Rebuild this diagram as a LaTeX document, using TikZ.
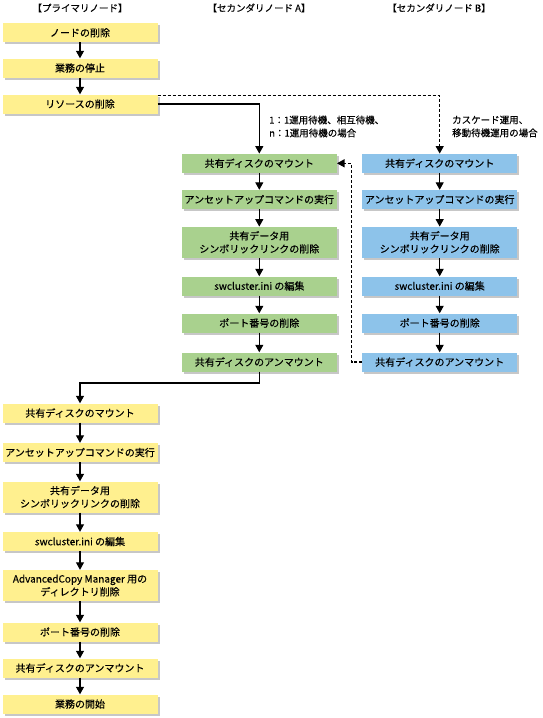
\documentclass[tikz,border=0pt]{standalone}
\usepackage{fontspec}
\setmainfont{Noto Sans CJK JP}[FakeBold=0.3]
\usetikzlibrary{arrows.meta,shadows}

\definecolor{primfill}{HTML}{FFF08F}
\definecolor{secafill}{HTML}{A9D18E}
\definecolor{secbfill}{HTML}{8DC3EA}

\begin{document}
\begin{tikzpicture}[x=1pt,y=-1pt,
        box/.style={minimum width=155pt, minimum height=19pt, inner sep=0pt, align=center,
                font=\fontsize{10}{13}\selectfont,
                drop shadow={shadow xshift=2pt, shadow yshift=-2pt, fill=black!22, opacity=1}},
        prim/.style={box, fill=primfill},
        seca/.style={box, fill=secafill},
        secb/.style={box, fill=secbfill},
        tall/.style={minimum height=31pt},
        head/.style={font=\fontsize{9.5}{12}\selectfont},
        note/.style={anchor=west, align=left, inner sep=0pt, font=\fontsize{9.5}{13}\selectfont},
        flow/.style={draw, line width=1.1pt, -{Triangle[width=8pt,length=7.5pt]}},
        alt/.style={flow, dash pattern=on 3pt off 2pt}]
        \useasboundingbox (0,0) rectangle (543,718);

        % headers
        \node[head] (HP) at (80,8) {【プライマリノード】};
        \node[head] (HA) at (259,8) {【セカンダリノード A】};
        \node[head] (HB) at (439,8) {【セカンダリノード B】};

        % primary node, first part
        \node[prim] (P1) at (80,32.7) {ノードの削除};
        \node[prim] (P2) at (80,68) {業務の停止};
        \node[prim] (P3) at (80,104) {リソースの削除};

        % secondary node A
        \node[seca] (A1) at (259.3,163.3) {共有ディスクのマウント};
        \node[seca] (A2) at (259.3,199.5) {アンセットアップコマンドの実行};
        \node[seca,tall] (A3) at (259.3,242.3) {共有データ用\\シンボリックリンクの削除};
        \node[seca] (A4) at (259.3,286) {swcluster.ini の編集};
        \node[seca] (A5) at (259.3,323) {ポート番号の削除};
        \node[seca] (A6) at (259.3,362) {共有ディスクのアンマウント};

        % secondary node B
        \node[secb] (B1) at (439.7,163.3) {共有ディスクのマウント};
        \node[secb] (B2) at (439.7,199.5) {アンセットアップコマンドの実行};
        \node[secb,tall] (B3) at (439.7,242.3) {共有データ用\\シンボリックリンクの削除};
        \node[secb] (B4) at (439.7,286) {swcluster.ini の編集};
        \node[secb] (B5) at (439.7,323) {ポート番号の削除};
        \node[secb] (B6) at (439.7,362) {共有ディスクのアンマウント};

        % primary node, second part
        \node[prim] (Q1) at (80,413) {共有ディスクのマウント};
        \node[prim] (Q2) at (80,452.5) {アンセットアップコマンドの実行};
        \node[prim,tall] (Q3) at (80,497) {共有データ用\\シンボリックリンクの削除};
        \node[prim] (Q4) at (80,541.5) {swcluster.ini の編集};
        \node[prim,tall] (Q5) at (80,585.5) {AdvancedCopy Manager 用の\\ディレクトリ削除};
        \node[prim] (Q6) at (80,632) {ポート番号の削除};
        \node[prim] (Q7) at (80,668) {共有ディスクのアンマウント};
        \node[prim] (Q8) at (80,704) {業務の開始};

        % case labels
        \node[note] (LA) at (269,126.5) {1：1運用待機、相互待機、\\n：1運用待機の場合};
        \node[note] (LB) at (452,126.5) {カスケード運用、\\移動待機運用の場合};

        \coordinate (retB) at (351.5,362);
        \coordinate (retA) at (259.3,383);

        \path (P1) edge[flow] (P2);
        \path (P2) edge[flow] (P3);
        \draw[flow] (P3.east) -| (A1.north);
        \draw[alt] ([yshift=-1.2pt]P3.north east) -| (B1.north);

        \path (A1) edge[flow] (A2);
        \path (A2) edge[flow] (A3);
        \path (A3) edge[flow] (A4);
        \path (A4) edge[flow] (A5);
        \path (A5) edge[flow] (A6);

        \path (B1) edge[flow] (B2);
        \path (B2) edge[flow] (B3);
        \path (B3) edge[flow] (B4);
        \path (B4) edge[flow] (B5);
        \path (B5) edge[flow] (B6);
        \draw[alt] (B6.west) -- (retB) |- (A1.east);

        \draw[flow] (A6.south) -- (retA) -| (Q1.north);
        \path (Q1) edge[flow] (Q2);
        \path (Q2) edge[flow] (Q3);
        \path (Q3) edge[flow] (Q4);
        \path (Q4) edge[flow] (Q5);
        \path (Q5) edge[flow] (Q6);
        \path (Q6) edge[flow] (Q7);
        \path (Q7) edge[flow] (Q8);
\end{tikzpicture}
\end{document}
